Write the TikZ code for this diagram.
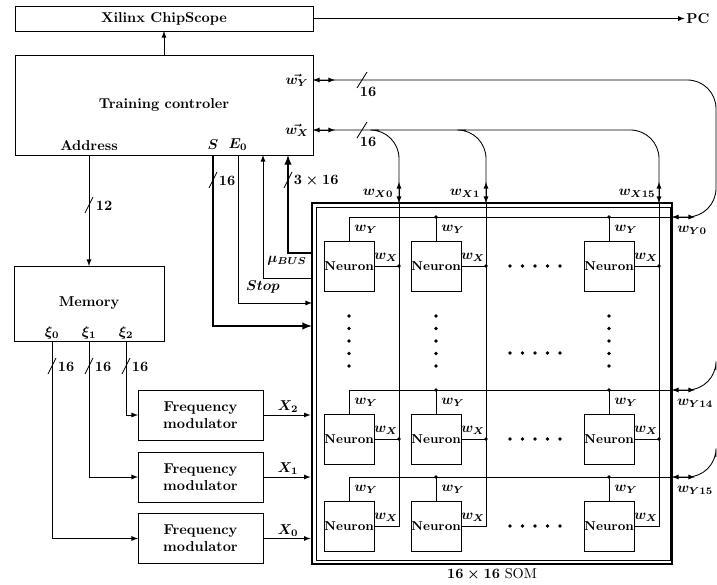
\documentclass[tikz,border=0pt]{standalone}
\begin{document}
\begin{tikzpicture}[
    x=0.7pt, y=-0.7pt,
    semithick,
    box/.style={
        rectangle,
        draw,
        align=center,
        font=\bfseries,
        outer sep=0pt
    },
    neuron/.style={
        box,
        minimum width=35pt,
        minimum height=35pt,
        inner sep=0pt,
        font=\small\bfseries
    },
    lbl/.style={
        inner sep=1pt,
        font=\bfseries\boldmath
    },
    arrow/.style={
        -latex
    },
    bus/.style={
        -latex,
        line width=1.3pt
    },
    biarrow/.style={
        latex-latex
    },
    junction/.style={
        circle,
        fill,
        inner sep=0pt,
        minimum size=2.6pt
    }
]

\clip (0,0) rectangle (717,584);

\node[box, minimum width=208.6pt, minimum height=17.5pt] (chip) at (164,18.5) {Xilinx ChipScope};
\node[box, minimum width=208.6pt, minimum height=70pt] (ctrl) at (164,105) {Training controler};
\node[box, minimum width=105pt, minimum height=52.5pt] (mem) at (89,303.5) {Memory};
\node[box, minimum width=87.5pt, minimum height=35pt] (fm2) at (200.5,415) {Frequency\\modulator};
\node[box, minimum width=87.5pt, minimum height=35pt] (fm1) at (200.5,477) {Frequency\\modulator};
\node[box, minimum width=87.5pt, minimum height=35pt] (fm0) at (200.5,538.5) {Frequency\\modulator};
\node[lbl] (pc) at (698,18.5) {PC};

\node[lbl] (wyLbl) at (297,80) {$\vec{w_Y}$};
\node[lbl] (wxLbl) at (297,130) {$\vec{w_X}$};
\node[lbl] (addr) at (89,146) {Address};
\node[lbl] (s) at (213,145) {$S$};
\node[lbl] (e0) at (238,145) {$E_0$};
\node[lbl] (xi0) at (52,333) {$\xi_0$};
\node[lbl] (xi1) at (89,333) {$\xi_1$};
\node[lbl] (xi2) at (126,333) {$\xi_2$};

% SOM array
\node[draw, line width=2pt, minimum width=252pt, minimum height=252.7pt, inner sep=0pt] (som) at (492,383.5) {};
\node[draw, minimum width=247.8pt, minimum height=247.1pt, inner sep=0pt] (somIn) at (493,383.5) {};
\node (somLbl) at (492,574) {{\boldmath$16\times16$} SOM};

\node[neuron] (nA1) at (349,266) {Neuron};
\node[neuron] (nA2) at (436,266) {Neuron};
\node[neuron] (nA3) at (609,266) {Neuron};
\node[neuron] (nB1) at (349,439) {Neuron};
\node[neuron] (nB2) at (436,439) {Neuron};
\node[neuron] (nB3) at (609,439) {Neuron};
\node[neuron] (nC1) at (349,526) {Neuron};
\node[neuron] (nC2) at (436,526) {Neuron};
\node[neuron] (nC3) at (609,526) {Neuron};

\coordinate (rowYA) at (672,217);
\coordinate (rowYB) at (672,390);
\coordinate (rowYC) at (672,477);
\coordinate (colX1) at (399,203);
\coordinate (colX2) at (486,203);
\coordinate (colX3) at (659,203);
\coordinate (edgeA) at (716,150);
\coordinate (edgeB) at (716,370);
\coordinate (edgeC) at (716,457);

\coordinate (sIn) at (312,326);
\coordinate (eIn) at (312,303);
\coordinate (stopOut) at (312,278);
\coordinate (stopIn) at (263,155);
\coordinate (muOut) at (312,253);
\coordinate (muIn) at (288,155);

% controller connections
\draw[arrow] (ctrl.north) -- (chip.south);
\draw[arrow] (chip.east) -- (pc.west);
\draw[arrow] (addr |- ctrl.south) -- (mem.north);
\draw[bus] (s |- ctrl.south) |- (sIn);
\draw[arrow] (e0 |- ctrl.south) |- (eIn);
\draw[arrow] (stopOut) -| (stopIn);
\draw[bus] (muOut) -| (muIn);

\node[lbl] (stopLbl) at (263,287) {$Stop$};
\node[lbl] (muLbl) at (287,261) {$\mu_{BUS}$};

% memory and modulators
\draw[arrow] (xi0 |- mem.south) |- (fm0.west);
\draw[arrow] (xi1 |- mem.south) |- (fm1.west);
\draw[arrow] (xi2 |- mem.south) |- (fm2.west);
\draw[arrow] (fm2.east) -- (fm2.east -| som.west);
\draw[arrow] (fm1.east) -- (fm1.east -| som.west);
\draw[arrow] (fm0.east) -- (fm0.east -| som.west);
\node[lbl] (x2Lbl) at (288,407) {$X_2$};
\node[lbl] (x1Lbl) at (288,469) {$X_1$};
\node[lbl] (x0Lbl) at (288,531) {$X_0$};

% bus widths
\draw (89,205) ++(-4,8) -- ++(8,-16);
\node[lbl, anchor=west] (bwAddr) at (94,206) {12};
\draw (213,180) ++(-4,8) -- ++(8,-16);
\node[lbl, anchor=west] (bwS) at (217,181) {16};
\draw (288,180) ++(-4,8) -- ++(8,-16);
\node[lbl, anchor=west] (bwMu) at (292,181) {$3\times16$};
\draw (362,80) ++(-5,8) -- ++(10,-16);
\node[lbl] (bwY) at (368,92) {16};
\draw (362,130) ++(-5,8) -- ++(10,-16);
\node[lbl] (bwX) at (368,142) {16};
\draw (52,366) ++(-4,8) -- ++(8,-16);
\node[lbl, anchor=west] (bwXi0) at (56,367) {16};
\draw (89,366) ++(-4,8) -- ++(8,-16);
\node[lbl, anchor=west] (bwXi1) at (93,367) {16};
\draw (126,366) ++(-4,8) -- ++(8,-16);
\node[lbl, anchor=west] (bwXi2) at (130,367) {16};

% weight buses to the controller
\draw[rounded corners=20] (ctrl.east |- wyLbl) -| (edgeA) |- (rowYA);
\draw[biarrow] (ctrl.east |- wyLbl) -- ++(22,0);
\draw[rounded corners=20] (ctrl.east |- wxLbl) -| (colX3);
\draw[biarrow] (ctrl.east |- wxLbl) -- ++(22,0);
\draw[rounded corners=20] (colX1 |- wxLbl) ++(-20,0) -| (colX1);
\draw[rounded corners=20] (colX2 |- wxLbl) ++(-20,0) -| (colX2);
\draw[rounded corners=20] (rowYB) -| (edgeB);
\draw[rounded corners=20] (rowYC) -| (edgeC);

\node[lbl] (wx0Lbl) at (378,193) {$w_{X0}$};
\node[lbl] (wx1Lbl) at (465,193) {$w_{X1}$};
\node[lbl] (wx15Lbl) at (637,193) {$w_{X15}$};
\node[lbl] (wy0Lbl) at (692,230) {$w_{Y0}$};
\node[lbl] (wy14Lbl) at (695,403) {$w_{Y14}$};
\node[lbl] (wy15Lbl) at (695,490) {$w_{Y15}$};

% rows and columns of the array
\foreach \r in {A,B,C} {
    \draw (n\r1.north) |- (rowY\r);
    \draw (n\r2.north) -- (n\r2.north |- rowY\r) node[junction] {};
    \draw (n\r3.north) -- (n\r3.north |- rowY\r) node[junction] {};
    \draw[biarrow] (rowY\r) -- ++(23,0);
}
\foreach \c in {1,2,3} {
    \draw (nC\c.east) -| (colX\c);
    \draw (nA\c.east) -- (nA\c.east -| colX\c) node[junction] {};
    \draw (nB\c.east) -- (nB\c.east -| colX\c) node[junction] {};
    \draw[biarrow] (colX\c) -- ++(0,-21);
    \foreach \r in {A,B,C} {
        \node[lbl] (wyN\r\c) at ([shift={(17,-12)}]n\r\c.north) {$w_Y$};
        \node[lbl] (wxN\r\c) at ([shift={(12,-9)}]n\r\c.east) {$w_X$};
    }
}

% dots
\foreach \y in {266,353,439,526} {
    \foreach \x in {510,522.5,...,560} {
        \fill (\x,\y) circle[radius=1.8];
    }
}
\foreach \y in {316,328.5,...,366} {
    \fill (349,\y) circle[radius=1.8];
    \fill (436,\y) circle[radius=1.8];
    \fill (609,\y) circle[radius=1.8];
}

\end{tikzpicture}
\end{document}
